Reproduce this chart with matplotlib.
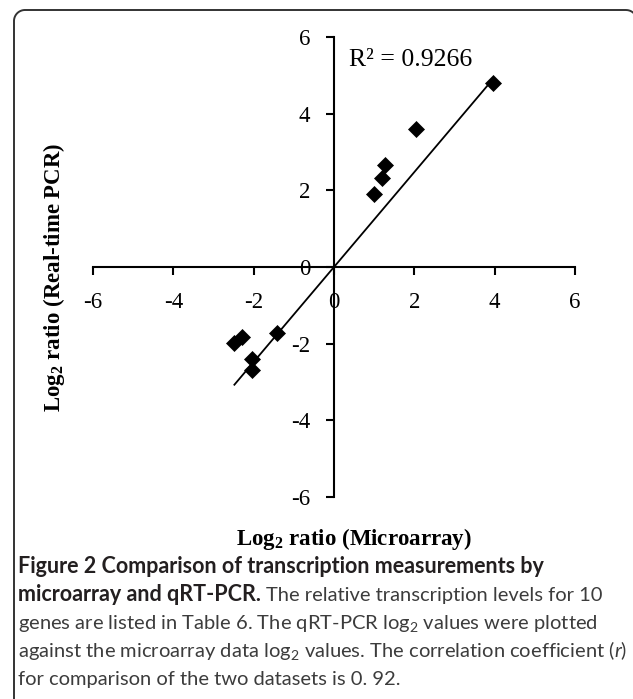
import numpy as np
import matplotlib.pyplot as plt
from matplotlib.lines import Line2D

plt.rcParams['axes.unicode_minus'] = False
plt.rcParams['mathtext.fontset'] = 'custom'
plt.rcParams['mathtext.rm'] = 'Lato'
plt.rcParams['mathtext.it'] = 'Lato:italic'
plt.rcParams['mathtext.bf'] = 'Liberation Serif:bold'

# log2 ratios
microarray = [3.95, 2.04, 1.27, 1.20, 0.99, -1.43, -2.28, -2.48, -2.04, -2.04]
realtime = [4.81, 3.59, 2.67, 2.33, 1.90, -1.72, -1.83, -1.99, -2.41, -2.69]
ticks = [-6, -4, -2, 0, 2, 4, 6]
r2_text = "R\u00b2 = 0.9266"

W, H = 633, 699
fig = plt.figure(figsize=(W / 100, H / 100), dpi=100)

# rounded frame (left + top edges only, the rest is cut off in the source)
rad = 11
ang = np.linspace(np.pi, np.pi / 2, 20)
fx = np.concatenate([[14], 14 + rad + rad * np.cos(ang), [626]])
fy = np.concatenate([[H + 5], 10 + rad - rad * np.sin(ang), [10]])
ang2 = np.linspace(np.pi / 2, 0, 10)
fx = np.concatenate([fx, 626 + rad * np.cos(ang2)])
fy = np.concatenate([fy, 10 + rad - rad * np.sin(ang2)])
fig.lines.append(Line2D(fx / W, 1 - fy / H, transform=fig.transFigure,
                        color='#333333', lw=1.4))

ax = fig.add_axes([93 / W, 1 - 497 / H, (575 - 93) / W, (497 - 37) / H])
ax.set_xlim(-6, 6)
ax.set_ylim(-6, 6)

for s in ['top', 'right']:
    ax.spines[s].set_visible(False)
for s in ['left', 'bottom']:
    ax.spines[s].set_position(('data', 0))
    ax.spines[s].set_linewidth(1.5)

ax.set_xticks(ticks)
ax.set_yticks(ticks)
ax.tick_params(direction='out', length=6, width=1.5, labelsize=16.5)
ax.tick_params(axis='x', pad=12)
ax.tick_params(axis='y', pad=11)
for lab in ax.get_xticklabels() + ax.get_yticklabels():
    lab.set_fontfamily('Liberation Serif')

x = np.array(microarray)
y = np.array(realtime)
slope = np.sum(x * y) / np.sum(x * x)  # trendline through origin
xl = np.array([x.min(), x.max()])
ax.plot(xl, slope * xl, color='black', lw=1.3)
ax.plot(x, y, 'D', color='black', ms=8.5, mew=0.5)

ax.text(0.37, 5.25, r2_text, family='Liberation Serif', fontsize=18.5,
        va='baseline', ha='left')

fig.text(354 / W, 1 - 545 / H, r"Log$_\mathbf{2}$ ratio (Microarray)",
         family='Liberation Serif', weight='bold', fontsize=16.5,
         ha='center', va='baseline')
fig.text(54 / W, 1 - 277 / H, r"Log$_\mathbf{2}$ ratio (Real-time PCR)",
         family='Liberation Serif', weight='bold', fontsize=16.5,
         rotation=90, ha='center', va='center')

# caption
bold_size = 15.5
reg_size = 14.5
bold_c = '#231f20'
reg_c = '#3c3c3c'
x0 = 18
base = [573, 601, 629, 657, 685]

fig.text(x0 / W, 1 - base[0] / H,
         "Figure 2 Comparison of transcription measurements by",
         family='Lato', weight='bold', fontsize=bold_size, color=bold_c,
         va='baseline')
t = fig.text(x0 / W, 1 - base[1] / H, "microarray and qRT-PCR.",
             family='Lato', weight='bold', fontsize=bold_size, color=bold_c,
             va='baseline')
bb = t.get_window_extent(fig.canvas.get_renderer())
fig.text((bb.x1 + 5) / W, 1 - base[1] / H,
         "The relative transcription levels for 10",
         family='Lato', fontsize=reg_size, color=reg_c, va='baseline')
fig.text(x0 / W, 1 - base[2] / H,
         r"genes are listed in Table 6. The qRT-PCR log$_\mathrm{2}$ values were plotted",
         family='Lato', fontsize=reg_size, color=reg_c, va='baseline')
fig.text(x0 / W, 1 - base[3] / H,
         r"against the microarray data log$_\mathrm{2}$ values. The correlation coefficient ($\mathit{r}$)",
         family='Lato', fontsize=reg_size, color=reg_c, va='baseline')
fig.text(x0 / W, 1 - base[4] / H,
         "for comparison of the two datasets is 0. 92.",
         family='Lato', fontsize=reg_size, color=reg_c, va='baseline')

fig.savefig("out.png", dpi=100)
